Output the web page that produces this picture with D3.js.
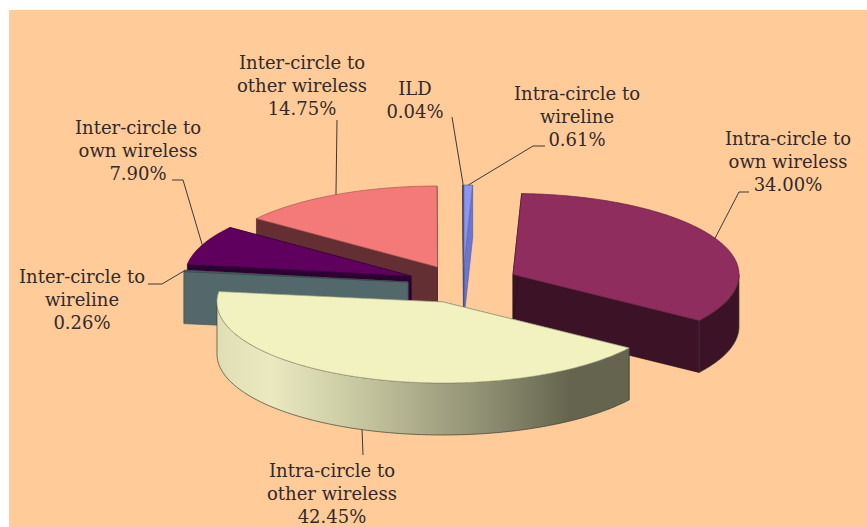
<!DOCTYPE html>
<html>
<head>
<meta charset="utf-8">
<script src="https://cdn.jsdelivr.net/npm/d3@7"></script>
<style>
  html, body { margin: 0; padding: 0; background: #fff; overflow: hidden; }
  svg { display: block; }
  text { font-family: "DejaVu Serif", serif; font-size: 18px; fill: #33292a; text-anchor: middle; }
</style>
</head>
<body>
<div id="chart"></div>
<script>
const categories = [
    "Intra-circle to wireline",
    "Intra-circle to own wireless",
    "Intra-circle to other wireless",
    "Inter-circle to wireline",
    "Inter-circle to own wireless",
    "Inter-circle to other wireless",
    "ILD"
];
const shares = [0.61, 34.00, 42.45, 0.26, 7.90, 14.75, 0.04];

// Label text broken the way the picture breaks it
const labelLines = [
    ["Intra-circle to", "wireline", "0.61%"],
    ["Intra-circle to", "own wireless", "34.00%"],
    ["Intra-circle to", "other wireless", "42.45%"],
    ["Inter-circle to", "wireline", "0.26%"],
    ["Inter-circle to", "own wireless", "7.90%"],
    ["Inter-circle to", "other wireless", "14.75%"],
    ["ILD", "0.04%"]
];

// Layout, same order as categories
const topColors = ["#8b96f2", "#8e2d5e", "#f2f1c0", "#53686b", "#5f005f", "#f47a7a", "#3a3a3a"];
const sideColors = ["#6d76cf", "#3b1226", "url(#rimGradient)", "#53686b", "#2d0032", "#642f33", "#222222"];
const wallColors = ["#6d76cf", "#3b1226", "#65654f", "#53686b", "#2d0032", "#642f33", "#222222"];
const apexes = [[464, 266], [513, 274.5], [443, 302], [408, 282], [411, 276], [437.5, 267], [463.5, 266]];
const labelPos = [[577, 100], [788, 145], [332, 477], [82, 283], [138, 134], [302, 69], [415, 95]];
// Elbow of each leader line: [end at text, bend]
const leaders = [
    [[545, 146], [533, 146]],
    [[749, 192], [739, 192]],
    [[363, 455], [363, 455]],
    [[148, 284], [162, 284]],
    [[172, 180], [183, 180]],
    [[337, 120], [337, 120]],
    [[452, 117], [452, 117]]
];
// Back to front
const drawOrder = [5, 6, 0, 1, 4, 3, 2];

const width = 867, height = 527;
const rx = 226, ry = 81, depth = 52, lineGap = 22.8;

const svg = d3.select("#chart").append("svg")
    .attr("width", width)
    .attr("height", height);

const defs = svg.append("defs");
const rimGradient = defs.append("linearGradient")
    .attr("id", "rimGradient")
    .attr("gradientUnits", "userSpaceOnUse")
    .attr("x1", 218).attr("x2", 628).attr("y1", 0).attr("y2", 0);
[[0, "#e0dfb4"], [0.13, "#eae9c0"], [0.37, "#c2c29c"], [0.66, "#8d8d71"], [0.86, "#65654f"], [1, "#65654f"]]
    .forEach(s => rimGradient.append("stop").attr("offset", s[0]).attr("stop-color", s[1]));

// Peach panel, the white strip at top and left is part of the picture
svg.append("rect")
    .attr("x", 9).attr("y", 10)
    .attr("width", width - 9).attr("height", height - 10)
    .attr("fill", "#ffcc99");

const arcs = d3.pie().sort(null)(shares);

// Tilted disc: angle on the pie to an offset on the page
const px = d3.scaleLinear().domain([-1, 1]).range([-rx, rx]);
const py = d3.scaleLinear().domain([-1, 1]).range([ry, -ry]);
const line = d3.line();

function rim(i, angle, drop) {
    return [apexes[i][0] + px(Math.sin(angle)), apexes[i][1] + py(Math.cos(angle)) + drop];
}

function rimRun(i, a0, a1, drop) {
    const n = Math.max(2, Math.ceil((a1 - a0) * 60));
    return d3.range(n + 1).map(k => rim(i, a0 + (a1 - a0) * k / n, drop));
}

function radialWall(i, angle) {
    const a = apexes[i];
    return line([a, rim(i, angle, 0), rim(i, angle, depth), [a[0], a[1] + depth]]) + "Z";
}

const slices = svg.append("g")
    .selectAll("g")
    .data(drawOrder)
    .join("g")
    .attr("stroke-width", 0.7)
    .attr("stroke-linejoin", "round");

slices.each(function(i) {
    const g = d3.select(this);
    const d = arcs[i];

    // cut faces
    [d.endAngle, d.startAngle].forEach(angle => {
        g.append("path")
            .attr("d", radialWall(i, angle))
            .attr("fill", wallColors[i])
            .attr("stroke", d3.color(wallColors[i]).darker(0.6));
    });

    // outer wall, only the near half of the disc shows it
    const from = Math.max(d.startAngle, Math.PI / 2);
    const to = Math.min(d.endAngle, Math.PI * 3 / 2);
    if (to > from) {
        const wall = rimRun(i, from, to, 0).concat(rimRun(i, from, to, depth).reverse());
        g.append("path")
            .attr("d", line(wall) + "Z")
            .attr("fill", sideColors[i])
            .attr("stroke", "#3c3c30");
    }

    // top face
    const top = [apexes[i]].concat(rimRun(i, d.startAngle, d.endAngle, 0));
    g.append("path")
        .attr("d", line(top) + "Z")
        .attr("fill", topColors[i])
        .attr("stroke", d3.color(topColors[i]).darker(1));
});

// Leader lines run from the middle of each slice's rim to the label
svg.append("g")
    .selectAll("path")
    .data(arcs)
    .join("path")
    .attr("fill", "none")
    .attr("stroke", "#3a3a36")
    .attr("stroke-width", 1)
    .attr("d", (d, i) => {
        const mid = (d.startAngle + d.endAngle) / 2;
        const drop = i === 2 ? depth : 0;
        return line([leaders[i][0], leaders[i][1], rim(i, mid, drop)]);
    });

// Labels
const labels = svg.append("g")
    .selectAll("text")
    .data(categories)
    .join("text")
    .attr("aria-label", d => d);

labels.each(function(d, i) {
    d3.select(this).selectAll("tspan")
        .data(labelLines[i])
        .join("tspan")
        .attr("x", labelPos[i][0])
        .attr("y", (t, k) => labelPos[i][1] + k * lineGap)
        .text(t => t);
});
</script>
</body>
</html>
